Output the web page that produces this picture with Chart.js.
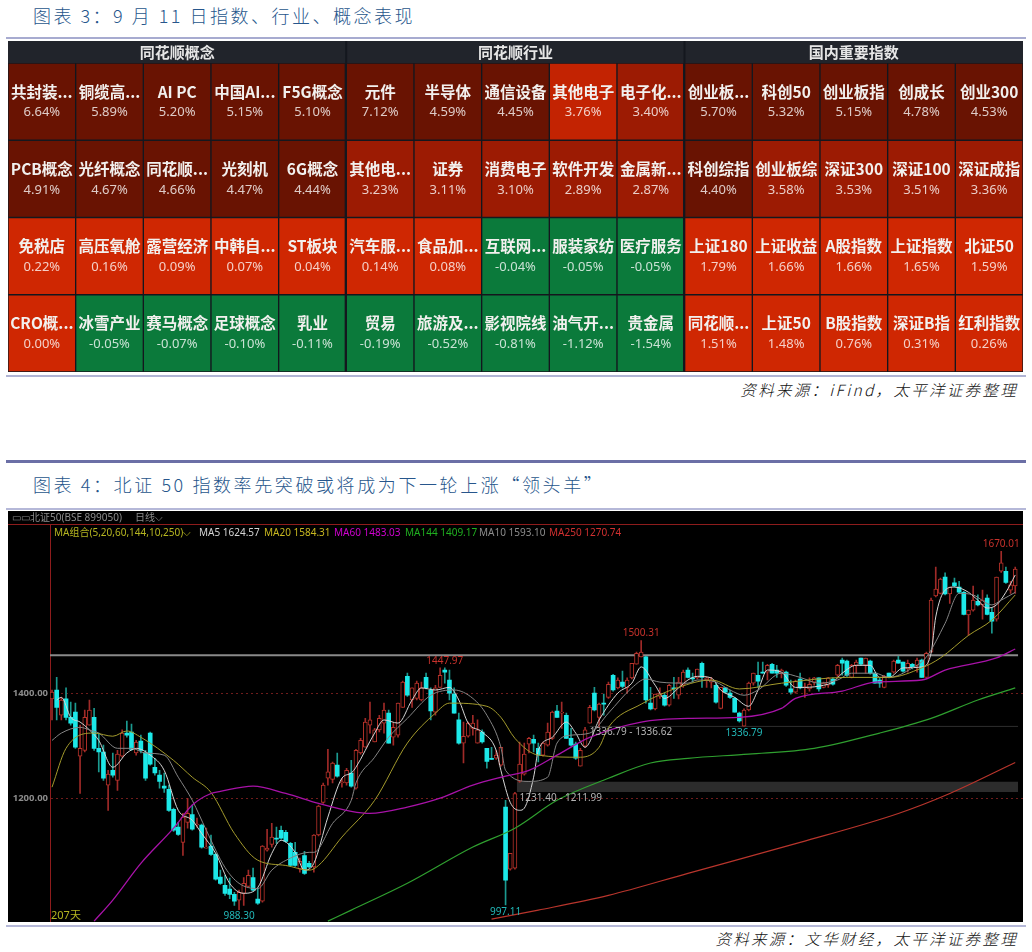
<!DOCTYPE html>
<html lang="zh">
<head>
<meta charset="utf-8">
<title>图表</title>
<script src="https://cdn.jsdelivr.net/npm/chart.js@4/dist/chart.umd.min.js"></script>
<style>
  html, body { margin: 0; padding: 0; background: #fff; }
  body { position: relative; width: 1032px; height: 952px; overflow: hidden; font-family: "Noto Sans CJK SC", sans-serif; }
  .abs { position: absolute; white-space: nowrap; }
  .title { color: #27568c; font-size: 18px; font-weight: 300; letter-spacing: 2.5px; line-height: 24px; left: 33px; }
  .source { color: #111; font-size: 15.5px; font-style: italic; font-weight: 300; letter-spacing: 2.3px; line-height: 20px; right: 14px; }
  .rule { left: 6px; width: 1020px; }
  .panel { position: absolute; left: 8px; background: #000; overflow: hidden; }
  canvas { display: block; }
  .kt { font: 10px "Noto Sans", "Noto Sans CJK SC", sans-serif; line-height: 14px; }
</style>
</head>
<body>

<div class="abs title" style="top:3px">图表 3&#xFF1A;9 月 11 日指数、行业、概念表现</div>
<div class="abs rule" style="top:37px;height:2px;background:#a7abd0"></div>
<div class="panel" style="top:41px;width:1015px;height:331px"><canvas id="heat" width="1015" height="331"></canvas></div>
<div class="abs rule" style="top:375px;height:2px;background:#b0b4d4"></div>
<div class="abs source" style="top:379px">资料来源&#xFF1A;iFind&#xFF0C;太平洋证券整理</div>

<div class="abs rule" style="top:460px;height:3px;background:#6b6fa6"></div>
<div class="abs title" style="top:472px;letter-spacing:2.6px">图表 4&#xFF1A;北证 50 指数率先突破或将成为下一轮上涨“领头羊”</div>
<div class="abs rule" style="top:508px;height:2px;background:#b5b8d8"></div>
<div class="panel" style="top:511px;width:1015px;height:411px"><canvas id="kline" width="1015" height="419"></canvas></div>
<div class="abs" style="left:8px;top:524px;width:1015px;height:1px;background:#8e1c1c"></div>
<div class="abs kt" style="left:12px;top:510px;color:#8c8c8c">▭▭</div>
<div class="abs kt" style="left:30px;top:510px;color:#8c8c8c">北证50(BSE 899050)</div>
<div class="abs kt" style="left:135px;top:510px;color:#8c8c8c">日线⌵</div>
<div class="abs kt" style="left:54px;top:525px;color:#b5b520">MA组合(5,20,60,144,10,250)⌵</div>
<div class="abs kt" style="left:199px;top:525px;color:#d4d4d4">MA5 1624.57</div>
<div class="abs kt" style="left:264px;top:525px;color:#c8b820">MA20 1584.31</div>
<div class="abs kt" style="left:334px;top:525px;color:#d000d0">MA60 1483.03</div>
<div class="abs kt" style="left:405px;top:525px;color:#20b020">MA144 1409.17</div>
<div class="abs kt" style="left:479px;top:525px;color:#8c8c8c">MA10 1593.10</div>
<div class="abs kt" style="left:549px;top:525px;color:#d03030">MA250 1270.74</div>
<div class="abs kt" style="left:51px;top:908px;color:#b5b520;font-size:11px">207天</div>
<div class="abs rule" style="top:925px;height:2px;background:#b5b8d8"></div>
<div class="abs source" style="top:928px">资料来源&#xFF1A;文华财经&#xFF0C;太平洋证券整理</div>

<script>
// ====================== HEATMAP DATA ======================
const groupTitles = ['同花顺概念', '同花顺行业', '国内重要指数'];

const namesRow1 = ['共封装...', '铜缆高...', 'AI PC', '中国AI...', 'F5G概念', '元件', '半导体', '通信设备', '其他电子', '电子化...', '创业板...', '科创50', '创业板指', '创成长', '创业300'];
const valuesRow1 = [6.64, 5.89, 5.20, 5.15, 5.10, 7.12, 4.59, 4.45, 3.76, 3.40, 5.70, 5.32, 5.15, 4.78, 4.53];
const namesRow2 = ['PCB概念', '光纤概念', '同花顺...', '光刻机', '6G概念', '其他电...', '证券', '消费电子', '软件开发', '金属新...', '科创综指', '创业板综', '深证300', '深证100', '深证成指'];
const valuesRow2 = [4.91, 4.67, 4.66, 4.47, 4.44, 3.23, 3.11, 3.10, 2.89, 2.87, 4.40, 3.58, 3.53, 3.51, 3.36];
const namesRow3 = ['免税店', '高压氧舱', '露营经济', '中韩自...', 'ST板块', '汽车服...', '食品加...', '互联网...', '服装家纺', '医疗服务', '上证180', '上证收益', 'A股指数', '上证指数', '北证50'];
const valuesRow3 = [0.22, 0.16, 0.09, 0.07, 0.04, 0.14, 0.08, -0.04, -0.05, -0.05, 1.79, 1.66, 1.66, 1.65, 1.59];
const namesRow4 = ['CRO概...', '冰雪产业', '赛马概念', '足球概念', '乳业', '贸易', '旅游及...', '影视院线', '油气开...', '贵金属', '同花顺...', '上证50', 'B股指数', '深证B指', '红利指数'];
const valuesRow4 = [0.00, -0.05, -0.07, -0.10, -0.11, -0.19, -0.52, -0.81, -1.12, -1.54, 1.51, 1.48, 0.76, 0.31, 0.26];

// ====================== KLINE DATA ======================
const opens = [
  1389,1406,1358,1389,1354,1364,1280,1291,1339,1354,
  1295,1288,1225,1253,1234,1280,1324,1326,1286,1309,
  1286,1324,1259,1244,1223,1217,1179,1145,1116,1154,
  1169,1149,1149,1105,1109,1093,1050,1034,1027,1017,
  1006,1019,1032,1049,1008,1004,1101,1112,1124,1139,
  1135,1114,1097,1065,1091,1076,1069,1130,1192,1238,
  1236,1263,1229,1229,1248,1219,1286,1297,1339,1307,
  1330,1343,1362,1316,1320,1373,1432,1387,1390,1387,
  1430,1406,1364,1411,1444,1425,1398,1349,1305,1318,
  1333,1305,1326,1295,1276,1276,1263,1183,1065,1067,
  1232,1246,1303,1312,1295,1282,1301,1314,1366,1362,
  1358,1314,1303,1261,1299,1343,1400,1354,1381,1392,
  1434,1410,1421,1410,1429,1455,1469,1469,1381,1370,
  1394,1396,1377,1410,1396,1415,1444,1429,1429,1457,
  1425,1421,1415,1371,1410,1400,1390,1362,1337,1368,
  1419,1434,1440,1440,1455,1444,1438,1440,1408,1402,
  1427,1410,1408,1421,1429,1411,1415,1427,1434,1463,
  1461,1430,1453,1467,1453,1461,1438,1425,1411,1438,
  1440,1463,1459,1446,1455,1453,1463,1430,1478,1585,
  1590,1621,1589,1610,1602,1592,1549,1558,1575,1568,
  1581,1554,1541,1632,1632,1596,1604
];
const closes = [
  1402,1373,1387,1354,1343,1297,1295,1354,1368,1295,
  1288,1238,1246,1244,1284,1324,1320,1293,1307,1291,
  1238,1265,1248,1232,1219,1177,1139,1131,1164,1171,
  1141,1151,1107,1107,1093,1046,1038,1019,1017,1004,
  1021,1038,1053,1025,1000,1109,1105,1126,1122,1124,
  1118,1072,1072,1080,1057,1069,1130,1185,1225,1250,
  1267,1242,1231,1253,1223,1291,1310,1345,1349,1330,
  1352,1368,1305,1335,1381,1421,1396,1410,1419,1410,
  1410,1366,1410,1434,1440,1400,1362,1305,1318,1343,
  1343,1330,1307,1270,1274,1282,1297,1044,1095,1209,
  1265,1284,1314,1305,1282,1305,1326,1364,1354,1364,
  1314,1301,1276,1291,1330,1373,1368,1379,1379,1417,
  1406,1425,1413,1425,1457,1476,1478,1387,1370,1398,
  1400,1377,1415,1408,1421,1440,1430,1427,1446,1430,
  1429,1425,1383,1411,1402,1392,1364,1347,1368,1419,
  1438,1423,1438,1453,1438,1438,1444,1415,1402,1423,
  1410,1411,1417,1429,1408,1419,1429,1417,1453,1457,
  1434,1453,1459,1455,1467,1438,1419,1419,1432,1430,
  1461,1457,1442,1457,1450,1463,1430,1476,1577,1598,
  1617,1589,1602,1604,1592,1550,1558,1577,1568,1577,
  1550,1537,1621,1648,1611,1606,1636
];
const highs = [
  1406,1430,1392,1410,1383,1381,1339,1368,1387,1371,
  1324,1301,1253,1286,1291,1330,1347,1341,1310,1320,
  1291,1326,1276,1253,1248,1225,1181,1154,1171,1200,
  1187,1162,1151,1143,1130,1095,1063,1053,1048,1021,
  1025,1049,1063,1067,1029,1110,1141,1152,1145,1147,
  1139,1116,1116,1086,1099,1080,1131,1187,1229,1293,
  1269,1286,1238,1257,1272,1293,1314,1352,1383,1333,
  1358,1381,1368,1343,1381,1423,1438,1410,1423,1421,
  1438,1410,1415,1448,1448,1444,1410,1362,1345,1345,
  1358,1349,1330,1295,1297,1291,1297,1196,1095,1211,
  1307,1305,1316,1320,1305,1307,1343,1366,1377,1383,
  1362,1333,1307,1295,1335,1377,1411,1381,1398,1421,
  1436,1429,1442,1429,1457,1478,1500,1470,1411,1398,
  1410,1400,1417,1430,1430,1444,1448,1438,1446,1459,
  1430,1430,1419,1411,1411,1406,1392,1364,1370,1421,
  1438,1459,1459,1455,1457,1453,1446,1442,1425,1425,
  1438,1419,1429,1430,1429,1421,1430,1429,1455,1467,
  1463,1455,1463,1467,1467,1463,1438,1429,1434,1438,
  1463,1470,1459,1463,1457,1467,1465,1478,1581,1640,
  1619,1629,1602,1619,1613,1594,1558,1604,1587,1596,
  1587,1562,1621,1670,1640,1613,1640
];
const lows = [
  1349,1349,1349,1349,1339,1295,1209,1288,1339,1291,
  1250,1234,1177,1240,1215,1278,1316,1291,1282,1286,
  1234,1263,1244,1219,1211,1175,1137,1129,1091,1143,
  1139,1145,1105,1105,1091,1044,1036,1015,1009,996,
  988,996,1030,1023,998,1002,1099,1107,1114,1122,
  1116,1070,1070,1059,1055,1067,1059,1128,1190,1225,
  1229,1240,1221,1225,1221,1217,1284,1297,1324,1307,
  1326,1324,1305,1301,1316,1373,1394,1373,1387,1385,
  1408,1349,1358,1411,1419,1387,1362,1303,1267,1316,
  1320,1305,1305,1257,1274,1274,1261,997,1063,1065,
  1230,1244,1286,1288,1269,1280,1299,1312,1354,1333,
  1314,1299,1274,1261,1297,1343,1366,1335,1358,1390,
  1404,1408,1410,1400,1427,1455,1469,1381,1368,1368,
  1390,1375,1375,1390,1389,1411,1429,1421,1427,1411,
  1411,1410,1381,1370,1400,1390,1364,1345,1337,1366,
  1415,1411,1438,1425,1438,1430,1429,1413,1398,1400,
  1408,1392,1404,1415,1404,1410,1411,1415,1430,1434,
  1432,1429,1438,1453,1438,1436,1419,1411,1410,1429,
  1438,1457,1440,1440,1446,1440,1430,1430,1478,1583,
  1589,1587,1571,1602,1590,1549,1510,1556,1566,1541,
  1549,1514,1537,1630,1609,1590,1590
];

// moving averages, [day, value] read at the visible bends of each curve
const ma5 = [[1,1387],[2,1392],[4,1354],[6,1345],[8,1330],[10,1310],[13,1259],[16,1286],[18,1295],[21,1282],[24,1253],[27,1177],[30,1158],[32,1133],[35,1095],[38,1038],[41,1019],[44,1030],[47,1095],[49,1120],[52,1097],[54,1063],[56,1076],[59,1164],[62,1238],[64,1248],[65,1259],[69,1324],[71,1349],[74,1343],[77,1387],[79,1410],[82,1406],[85,1411],[87,1387],[89,1343],[92,1326],[95,1291],[96,1253],[98,1192],[100,1177],[101,1181],[103,1240],[104,1291],[107,1316],[110,1345],[112,1324],[114,1297],[117,1349],[121,1400],[124,1419],[126,1450],[129,1415],[131,1390],[134,1410],[136,1425],[138,1432],[141,1429],[143,1406],[146,1392],[149,1375],[151,1406],[153,1444],[156,1440],[159,1411],[161,1411],[165,1415],[167,1421],[169,1438],[172,1453],[175,1453],[177,1430],[179,1430],[182,1448],[186,1450],[188,1476],[189,1545],[191,1596],[193,1602],[196,1592],[198,1577],[200,1562],[202,1568],[204,1592],[206,1625]];
const ma10 = [[0,1310],[2,1324],[6,1335],[8,1330],[10,1324],[14,1295],[17,1295],[20,1286],[24,1282],[27,1240],[30,1196],[33,1139],[37,1068],[40,1038],[44,1028],[47,1063],[51,1086],[55,1097],[56,1097],[60,1152],[64,1196],[65,1229],[69,1278],[72,1316],[76,1352],[81,1396],[86,1406],[90,1390],[93,1358],[96,1297],[97,1253],[102,1232],[106,1240],[108,1305],[111,1320],[115,1324],[119,1362],[124,1410],[127,1427],[130,1421],[136,1419],[138,1425],[142,1421],[145,1406],[148,1396],[151,1406],[156,1438],[160,1430],[164,1419],[168,1425],[171,1438],[176,1438],[179,1430],[184,1448],[187,1469],[191,1533],[194,1590],[197,1587],[201,1568],[203,1577],[206,1592]];
const ma20 = [[0,1221],[3,1295],[9,1324],[13,1318],[16,1328],[19,1316],[26,1272],[30,1240],[34,1211],[39,1133],[44,1082],[50,1072],[55,1063],[57,1072],[62,1126],[69,1196],[76,1305],[82,1362],[85,1381],[93,1375],[96,1354],[99,1314],[104,1282],[113,1278],[117,1297],[119,1335],[126,1379],[134,1411],[141,1425],[147,1408],[156,1419],[170,1430],[179,1430],[186,1448],[190,1467],[196,1510],[201,1539],[206,1587]];
const ma60 = [[9,966],[13,1006],[19,1076],[26,1143],[30,1187],[34,1209],[36,1213],[43,1223],[50,1209],[57,1190],[64,1175],[68,1171],[76,1183],[83,1200],[90,1225],[97,1242],[102,1253],[108,1282],[115,1316],[126,1345],[136,1352],[147,1354],[156,1371],[159,1390],[169,1404],[176,1421],[186,1425],[191,1444],[202,1467],[206,1484]];
const ma144 = [[59,966],[64,987],[76,1038],[90,1107],[99,1143],[108,1196],[119,1238],[128,1267],[136,1276],[149,1284],[163,1295],[177,1324],[188,1352],[198,1387],[206,1410]];
const ma250 = [[94,970],[104,987],[119,1015],[136,1057],[160,1116],[181,1171],[192,1209],[206,1268]];

const yTicks = [1200, 1400];
const neckLine = 1472;
const gapTop = 1231.40;
const gapBottom = 1211.99;
const lowBand = 1336.70;

// text marks on the price chart: day, price, label
const markDays = [84, 126, 203, 40, 97, 148];
const markPrices = [1447.97, 1500.31, 1670.01, 988.30, 997.11, 1336.79];
const rangeDays = [115, 100];
const rangePrices = [1336.62, 1211.99];
const rangeLabels = ['1336.79 - 1336.62', '1231.40 - 1211.99'];

// ====================== HEATMAP ======================
const CJK = '"Noto Sans CJK SC", sans-serif';
const rows = [
  { names: namesRow4, values: valuesRow4 },
  { names: namesRow3, values: valuesRow3 },
  { names: namesRow2, values: valuesRow2 },
  { names: namesRow1, values: valuesRow1 }
];

function cellColor(v) {
  if (v < 0) return '#0b7a3b';
  if (v < 2) return '#cf2702';
  if (v < 3.7) return '#9c1b03';
  if (v < 4) return '#c32302';
  return '#691302';
}

const cellText = {
  id: 'cellText',
  beforeDraw(chart) {
    const ctx = chart.ctx;
    ctx.save();
    ctx.fillStyle = '#21242b';
    ctx.fillRect(0, 0, chart.width, chart.height);
    ctx.restore();
  },
  afterDraw(chart) {
    const ctx = chart.ctx, x = chart.scales.x, y = chart.scales.y;
    ctx.save();
    ctx.textAlign = 'center';
    ctx.textBaseline = 'middle';
    groupTitles.forEach((t, g) => {
      ctx.font = 'bold 15px ' + CJK;
      ctx.fillStyle = '#e6e6e6';
      ctx.fillText(t, x.getPixelForValue(2 + g * 5), 11);
      if (g > 0) {
        ctx.fillStyle = '#14171e';
        ctx.fillRect(x.getPixelForValue(g * 5) - 35, 0, 2, 22);
      }
    });
    rows.forEach((r, ri) => {
      r.names.forEach((name, c) => {
        const cx = x.getPixelForValue(c), cy = y.getPixelForValue(ri + 0.5);
        ctx.font = 'bold 15.5px ' + CJK;
        ctx.fillStyle = '#f2f0ee';
        ctx.fillText(name, cx, cy - 10);
        ctx.font = '13px "Noto Sans", sans-serif';
        ctx.fillStyle = 'rgba(255,255,255,0.78)';
        ctx.fillText(r.values[c].toFixed(2) + '%', cx, cy + 11);
      });
    });
    ctx.restore();
  }
};

new Chart(document.getElementById('heat'), {
  type: 'bar',
  plugins: [cellText],
  data: {
    labels: namesRow1.map((n, i) => i),
    datasets: rows.map(r => ({
      data: r.values.map(() => 1),
      backgroundColor: r.values.map(cellColor),
      borderColor: '#14171e',
      borderSkipped: false,
      borderWidth: ctx => ({ top: 1, bottom: 1, left: 1, right: (ctx.dataIndex === 4 || ctx.dataIndex === 9) ? 2 : 1 }),
      barPercentage: 1,
      categoryPercentage: 1
    }))
  },
  options: {
    responsive: false,
    animation: false,
    layout: { padding: { top: 22 } },
    plugins: { legend: { display: false }, tooltip: { enabled: false } },
    scales: {
      x: { stacked: true, display: false },
      y: { stacked: true, display: false, min: 0, max: 4 }
    }
  }
});

// ====================== KLINE ======================
const isUp = i => closes[i] >= opens[i];
const pts = list => list.map(p => ({ x: p[0], y: p[1] }));
const xMin = -0.43, xMax = 207.66;

function maLine(list, color, width) {
  return { type: 'line', data: pts(list), borderColor: color, borderWidth: width, pointRadius: 0, cubicInterpolationMode: 'monotone', order: 1 };
}
function flatLine(v, from, to, color, width, extra) {
  return Object.assign({ type: 'line', data: [{ x: from, y: v }, { x: to, y: v }], borderColor: color, borderWidth: width, pointRadius: 0, order: 7 }, extra || {});
}

const priceMarks = {
  id: 'priceMarks',
  afterDraw(chart) {
    const ctx = chart.ctx, x = chart.scales.x, y = chart.scales.y;
    ctx.save();
    ctx.font = '10px "Noto Sans", sans-serif';
    ctx.textBaseline = 'middle';
    ctx.textAlign = 'center';
    markDays.forEach((d, i) => {
      const high = markPrices[i] >= highs[d] - 1;
      ctx.fillStyle = high ? '#c8322c' : '#22b8b8';
      ctx.fillText(markPrices[i].toFixed(2), x.getPixelForValue(d), y.getPixelForValue(markPrices[i]) + (high ? -7 : 7));
    });
    ctx.textAlign = 'left';
    ctx.fillStyle = '#b4b4b4';
    rangeDays.forEach((d, i) => {
      ctx.fillText(rangeLabels[i], x.getPixelForValue(d), y.getPixelForValue(rangePrices[i]) + 6);
    });
    ctx.restore();
  }
};

new Chart(document.getElementById('kline'), {
  type: 'bar',
  plugins: [priceMarks],
  data: {
    datasets: [
      flatLine(gapTop, 99.4, 206.6, 'rgba(0,0,0,0)', 0, { fill: '+1', backgroundColor: '#2c2c2c' }),
      flatLine(gapBottom, 99.4, 206.6, 'rgba(0,0,0,0)', 0),
      flatLine(lowBand, 115, 206.6, '#2e2e2e', 1),
      flatLine(neckLine, xMin, 206.6, '#8a8a8a', 2),
      {
        data: lows.map((l, i) => ({ x: i, y: [l, highs[i]] })),
        barThickness: 1,
        grouped: false,
        backgroundColor: lows.map((l, i) => isUp(i) ? '#a02a28' : '#1b9a90'),
        order: 5
      },
      {
        data: opens.map((o, i) => ({ x: i, y: [o, closes[i]] })),
        barThickness: 4,
        grouped: false,
        minBarLength: 1,
        borderSkipped: false,
        borderWidth: opens.map((o, i) => isUp(i) ? 1 : 0),
        borderColor: '#b8322a',
        backgroundColor: opens.map((o, i) => isUp(i) ? '#000' : '#1ce8e8'),
        order: 4
      },
      maLine(ma250, '#b8352c', 1.2),
      maLine(ma144, '#2f9f2f', 1.2),
      maLine(ma60, '#a812a8', 1.3),
      maLine(ma20, '#a39a2c', 1),
      maLine(ma10, '#858585', 1),
      maLine(ma5, '#d6d6d6', 1)
    ]
  },
  options: {
    responsive: false,
    animation: false,
    layout: { padding: { top: 13 } },
    plugins: { legend: { display: false }, tooltip: { enabled: false } },
    scales: {
      x: { type: 'linear', display: false, min: xMin, max: xMax, offset: false },
      y: {
        min: 963.8,
        max: 1722,
        afterBuildTicks: s => { s.ticks = yTicks.map(v => ({ value: v })); },
        afterFit: s => { s.width = 42; },
        ticks: {
          color: '#8c8c8c',
          padding: 2,
          font: { size: 9.5, weight: 'bold', family: '"Noto Sans", sans-serif' },
          callback: v => v.toFixed(2)
        },
        grid: { color: '#701c1c', drawTicks: false },
        border: { color: '#8e1c1c', dash: [2, 3] }
      }
    }
  }
});
</script>
</body>
</html>
